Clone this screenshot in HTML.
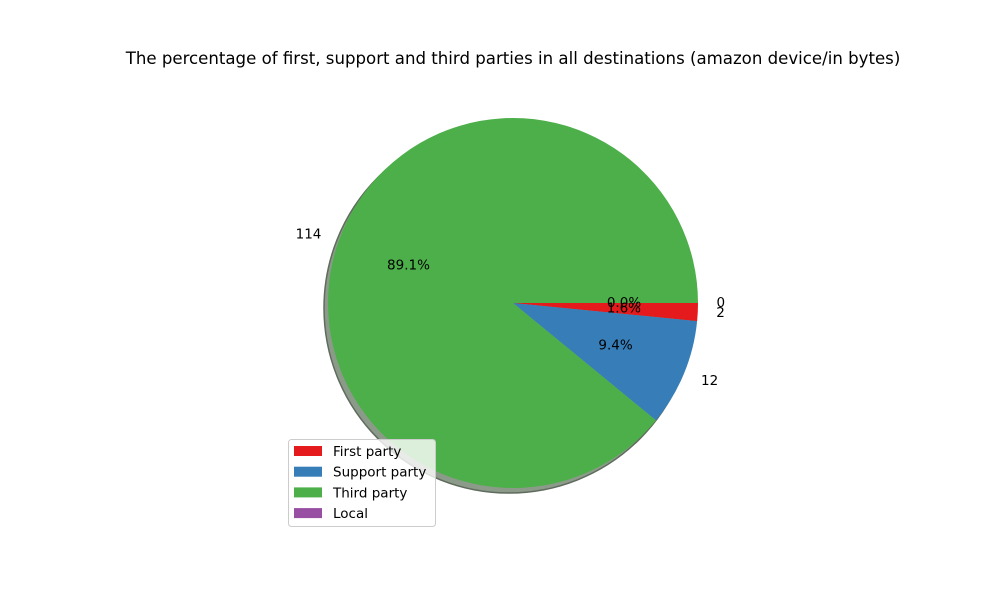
<!DOCTYPE html>
<html><head><meta charset="utf-8"><style>
body{margin:0;background:#fff;}
svg{display:block;font-family:"DejaVu Sans","Liberation Sans",sans-serif;}
</style></head><body>
<svg id="chart" width="1000" height="600" viewBox="0 0 1000 600">
<text x="513" y="64" text-anchor="middle" font-size="16.6" fill="#000">The percentage of first, support and third parties in all destinations (amazon device/in bytes)</text>
<g id="shadow"></g>
<g id="slices"></g>
<g id="labels"></g>
<g>
<rect x="288.5" y="439.5" width="147" height="87" rx="3" fill="#fff" fill-opacity="0.8" stroke="#ccc"/>
<g id="legend-entries"></g>
</g>
</svg>
<script>
const categories = ["First party", "Support party", "Third party", "Local"];
const values = [2, 12, 114, 0];
const colors = ["#e41a1c", "#377eb8", "#4daf4a", "#984ea3"];

const NS = "http://www.w3.org/2000/svg";
const cx = 513, cy = 303, r = 185;
function mk(tag, attrs, parent) {
  const el = document.createElementNS(NS, tag);
  for (const k in attrs) el.setAttribute(k, attrs[k]);
  parent.appendChild(el);
  return el;
}
function pt(angDeg, rad) {
  const a = angDeg * Math.PI / 180;
  return [cx + rad * Math.cos(a), cy + rad * Math.sin(a)];
}
const total = values.reduce((a, b) => a + b, 0);
const shadowG = document.getElementById("shadow");
const sliceG = document.getElementById("slices");
const labelG = document.getElementById("labels");

const sh = mk("circle", {cx: cx - 4, cy: cy + 5, r: r, fill: "#8c9a8a", stroke: "#5f6b5d", "stroke-width": 1.5}, shadowG);



let start = 0;
values.forEach((v, i) => {
  const sweep = v / total * 360;
  const end = start + sweep;
  if (sweep > 0) {
    let el;
    if (sweep >= 359.999) {
      el = mk("circle", {cx: cx, cy: cy, r: r, fill: colors[i]}, sliceG);
    } else {
      const [x1, y1] = pt(start, r), [x2, y2] = pt(end, r);
      const large = sweep > 180 ? 1 : 0;
      el = mk("path", {d: `M${cx},${cy} L${x1},${y1} A${r},${r} 0 ${large} 1 ${x2},${y2} Z`, fill: colors[i]}, sliceG);
    }
    
    
  }
  const mid = (start + end) / 2;
  const [lx, ly] = pt(mid, r * 1.1);
  const lab = mk("text", {x: lx, y: ly + 4, "font-size": 13.5, "text-anchor": lx > cx ? "start" : "end"}, labelG);
  lab.textContent = String(values[i]);
  
  
  const [px, py] = pt(mid, r * 0.6);
  const pl = mk("text", {x: px, y: py + 4, "font-size": 13.5, "text-anchor": "middle"}, labelG);
  pl.textContent = (v / total * 100).toFixed(1) + "%";
  
  
  start = end;
});

const legG = document.getElementById("legend-entries");
categories.forEach((c, i) => {
  const y = 451 + i * 20.7;
  const sw = mk("rect", {x: 294, y: y - 5, width: 28, height: 10, fill: colors[i]}, legG);
  
  
  const t = mk("text", {x: 333, y: y + 5, "font-size": 13.5}, legG);
  t.textContent = c;
  
  
});
</script>
</body></html>
